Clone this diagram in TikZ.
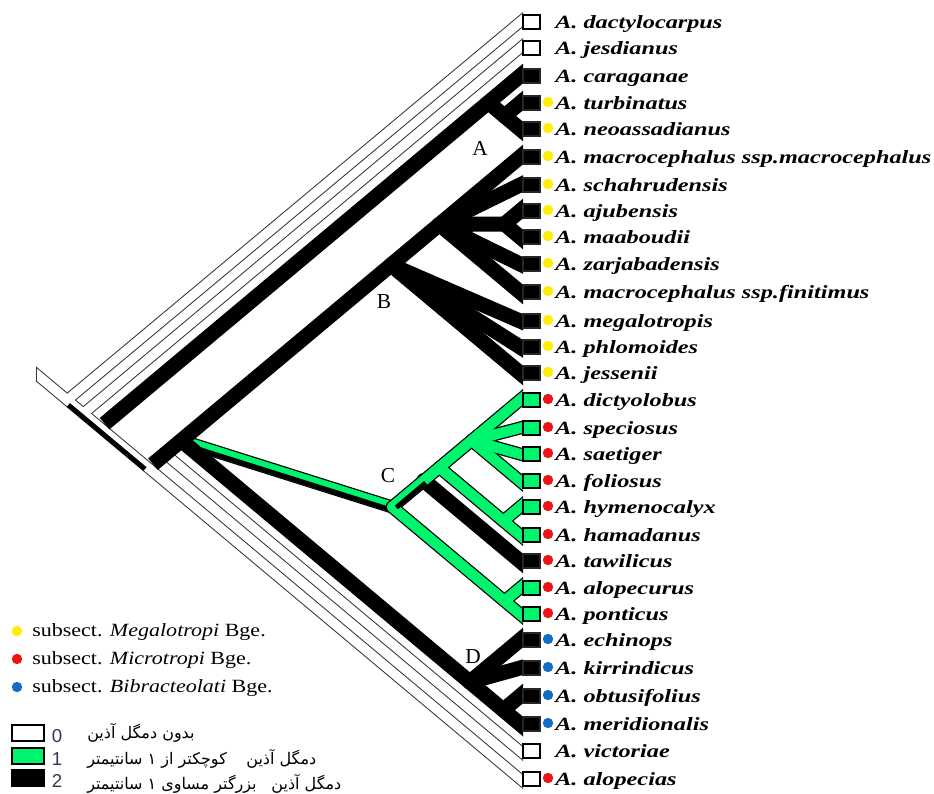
\documentclass[tikz,border=0pt]{standalone}
\usepackage{fontspec}
\setmainfont{Liberation Serif}
\newfontfamily\taxfont{Liberation Serif}[FakeStretch=1.3]
\newfontfamily\legfont{Liberation Serif}[FakeStretch=1.18]
\newfontfamily\numfont{Liberation Sans}
\newfontfamily\persfont[Script=Arabic]{DejaVu Sans}
\TeXXeTstate=1
\usetikzlibrary{calc}
\definecolor{inflgreen}{RGB}{0,245,110}
\definecolor{dotyellow}{RGB}{255,238,0}
\definecolor{dotred}{RGB}{238,20,20}
\definecolor{dotblue}{RGB}{16,110,200}
\definecolor{digitgrey}{RGB}{45,55,80}

% leaves: number / y / box style / name
\def\taxrows{1/22/boxwhite/dactylocarpus, 2/48/boxwhite/jesdianus,
  3/76/boxblack/caraganae, 4/103/boxblack/turbinatus,
  5/129/boxblack/neoassadianus, 6/157/boxblack/macrocephalus ssp.macrocephalus,
  7/185/boxblack/schahrudensis, 8/211/boxblack/ajubensis,
  9/237/boxblack/maaboudii, 10/264/boxblack/zarjabadensis,
  11/292/boxblack/macrocephalus ssp.finitimus, 12/321/boxblack/megalotropis,
  13/347/boxblack/phlomoides, 14/373/boxblack/jessenii,
  15/400/boxgreen/dictyolobus, 16/428/boxgreen/speciosus,
  17/454/boxgreen/saetiger, 18/481/boxgreen/foliosus,
  19/507/boxgreen/hymenocalyx, 20/535/boxgreen/hamadanus,
  21/561/boxblack/tawilicus, 22/588/boxgreen/alopecurus,
  23/614/boxgreen/ponticus, 24/640/boxblack/echinops,
  25/668/boxblack/kirrindicus, 26/696/boxblack/obtusifolius,
  27/724/boxblack/meridionalis, 28/751/boxwhite/victoriae,
  29/779/boxwhite/alopecias}

\begin{document}
\begin{tikzpicture}[x=0.75pt, y=-0.75pt,
    wline/.style={line width=8.6pt, black!80, line cap=round},
    wfill/.style={line width=7.1pt, white, line cap=round},
    bline/.style={line width=11.25pt, black, line cap=round},
    gline/.style={line width=9.75pt, black, line cap=round},
    gfill/.style={line width=7.9pt, inflgreen, line cap=round},
    mixstrip/.style={line width=3.6pt, black, line cap=butt},
    leafbox/.style={minimum width=13pt, minimum height=10.5pt, inner sep=0pt,
      line width=1.5pt, draw=black},
    boxwhite/.style={leafbox, fill=white},
    boxgreen/.style={leafbox, fill=inflgreen},
    boxblack/.style={leafbox, fill=black, draw=black!85},
    taxon/.style={anchor=base west, inner sep=0pt,
      font=\taxfont\fontsize{14}{16}\selectfont\bfseries\itshape},
    dot/.style={circle, inner sep=0pt, minimum size=7.8pt},
    clade/.style={inner sep=0pt, font=\fontsize{16}{18}\selectfont},
    legtext/.style={anchor=base west, inner sep=0pt,
      font=\legfont\fontsize{14}{16}\selectfont},
    legbox/.style={minimum width=24pt, minimum height=12pt, inner sep=0pt,
      line width=1.5pt, draw=black},
    digit/.style={anchor=base, inner sep=0pt, text=digitgrey,
      font=\numfont\fontsize{14}{16}\selectfont},
    persian/.style={anchor=base west, inner sep=0pt,
      font=\persfont\fontsize{12}{14}\selectfont},
  ]
  \useasboundingbox (0,0) rectangle (934,793);

  % ── leaf ends and inner nodes of the cladogram ─────────────────────
  \foreach \n/\yy/\st/\lab in \taxrows{
    \coordinate (t\n) at (520,\yy);
  }
  \coordinate (R0) at (20,360.5);
  \coordinate (N0) at (67.2,400);
  \coordinate (N1) at (83.3,413.5);
  \coordinate (N2) at (100,427.5);
  \coordinate (N3) at (148.4,468);
  \coordinate (V0) at (165.2,454);
  \coordinate (NBCD) at (181.3,440.5);
  \coordinate (NA) at (488.3,102.5);
  \coordinate (N45) at (504.5,116);
  \coordinate (NB) at (391,265);
  \coordinate (NX) at (439.4,224.5);
  \coordinate (N89) at (504.5,224);
  \coordinate (NC) at (392.2,507);
  \coordinate (NC1) at (423.8,480.5);
  \coordinate (NC2) at (439.4,467.5);
  \coordinate (NC3) at (471.6,440.5);
  \coordinate (N1920) at (503.3,521);
  \coordinate (N2223) at (504.5,601);
  \coordinate (ND) at (469.8,682);
  \coordinate (N2627) at (503.3,710);

  \begin{scope}
    \clip (36,0) rectangle (523,793);
    % state 0: white bands
    \foreach \src/\dst in {R0/t29, N0/t1, N1/t2, V0/t28}
      \draw[wline] (\src) -- ($(\dst)!-14pt!(\src)$);
    \foreach \src/\dst in {R0/t29, N0/t1, N1/t2, V0/t28}
      \draw[wfill] (\src) -- ($(\dst)!-14pt!(\src)$);
    % ambiguous 0/2 stem
    \draw[mixstrip] (68.4,404.9) -- (145,469);

    % ambiguous 1/2 stem of C, tucked under the black trunk
    \draw[gline, line cap=butt] (NBCD) -- (NC);
    \draw[gfill, line cap=butt] (NBCD) -- (NC);
    \draw[mixstrip] (188,445.8) -- (387.5,508.7);

    % state 2: black bands
    \draw[bline, line cap=butt] ($(N2)!4.5pt!(t3)$) -- ($(t3)!-14pt!(N2)$);
    \draw[bline, line cap=butt] ($(N3)!4.5pt!(t6)$) -- ($(t6)!-14pt!(N3)$);
    \foreach \src/\dst in {NA/t5, N45/t4, NX/t7, N89/t8, N89/t9,
        NX/t10, NX/t11, NB/t12, NB/t13, NB/t14, NBCD/t27, ND/t24, ND/t25,
        N2627/t26, NC1/t21}
      \draw[bline] (\src) -- ($(\dst)!-14pt!(\src)$);
    \draw[bline] (NX) -- (N89);

    % state 1: green bands
    \foreach \src/\dst in {NC/t23, N2223/t22, NC/t15, NC2/t20, N1920/t19,
        NC3/t16, NC3/t17, NC3/t18}
      \draw[gline] (\src) -- ($(\dst)!-14pt!(\src)$);
    \foreach \src/\dst in {NC/t23, N2223/t22, NC/t15, NC2/t20, N1920/t19,
        NC3/t16, NC3/t17, NC3/t18}
      \draw[gfill] (\src) -- ($(\dst)!-14pt!(\src)$);
    \draw[mixstrip] (396.4,507.4) -- (425.7,482.8);
  \end{scope}
  \draw[black!80, line width=0.8pt] (36.3,366.5) -- (36.3,382.1);

  % clade letters
  \node[clade] (labA) at (480,148) {A};
  \node[clade] (labB) at (384,302) {B};
  \node[clade] (labC) at (388,476) {C};
  \node[clade] (labD) at (473,657) {D};

  % ── leaf boxes and names ───────────────────────────────────────────
  \foreach \n/\yy/\st/\lab in \taxrows{
    \node[\st] (box\n) at (531.5,\yy) {};
    \node[taxon] (name\n) at (555,\yy+6) {A. \lab};
  }
  \foreach \n/\yy/\dc in {4/103/dotyellow, 5/129/dotyellow, 6/157/dotyellow,
      7/185/dotyellow, 8/211/dotyellow, 9/237/dotyellow, 10/264/dotyellow,
      11/292/dotyellow, 12/321/dotyellow, 13/347/dotyellow, 14/373/dotyellow,
      15/400/dotred, 16/428/dotred, 17/454/dotred, 18/481/dotred,
      19/507/dotred, 20/535/dotred, 21/561/dotred, 22/588/dotred,
      23/614/dotred, 24/640/dotblue, 25/668/dotblue, 26/696/dotblue,
      27/724/dotblue, 29/779/dotred}
    \node[dot, fill=\dc] (dot\n) at (548,\yy-1) {};

  % ── legend ─────────────────────────────────────────────────────────
  \node[dot, fill=dotyellow] (kyel) at (17,631) {};
  \node[dot, fill=dotred] (kred) at (17,659) {};
  \node[dot, fill=dotblue] (kblu) at (17,687) {};
  \node[legtext] (tyel) at (32,636) {subsect. \textit{Megalotropi} Bge.};
  \node[legtext] (tred) at (32,664) {subsect. \textit{Microtropi} Bge.};
  \node[legtext] (tblu) at (32,692) {subsect. \textit{Bibracteolati} Bge.};

  \node[legbox, fill=white] (k0) at (28,733) {};
  \node[legbox, fill=inflgreen] (k1) at (28,755.5) {};
  \node[legbox, fill=black] (k2) at (28,778) {};
  \node[digit] (d0) at (57,742) {0};
  \node[digit] (d1) at (57,765) {1};
  \node[digit] (d2) at (57,787) {2};
  \node[persian] (p0) at (87,738) {\beginR بدون دمگل آذین\endR};
  \node[persian] (p1) at (87,764) {\beginR دمگل آذین\hspace{0.9em} کوچکتر از ۱ سانتیمتر\endR};
  \node[persian] (p2) at (87,789) {\beginR دمگل آذین\hspace{0.6em} بزرگتر مساوی ۱ سانتیمتر\endR};
\end{tikzpicture}
\end{document}
